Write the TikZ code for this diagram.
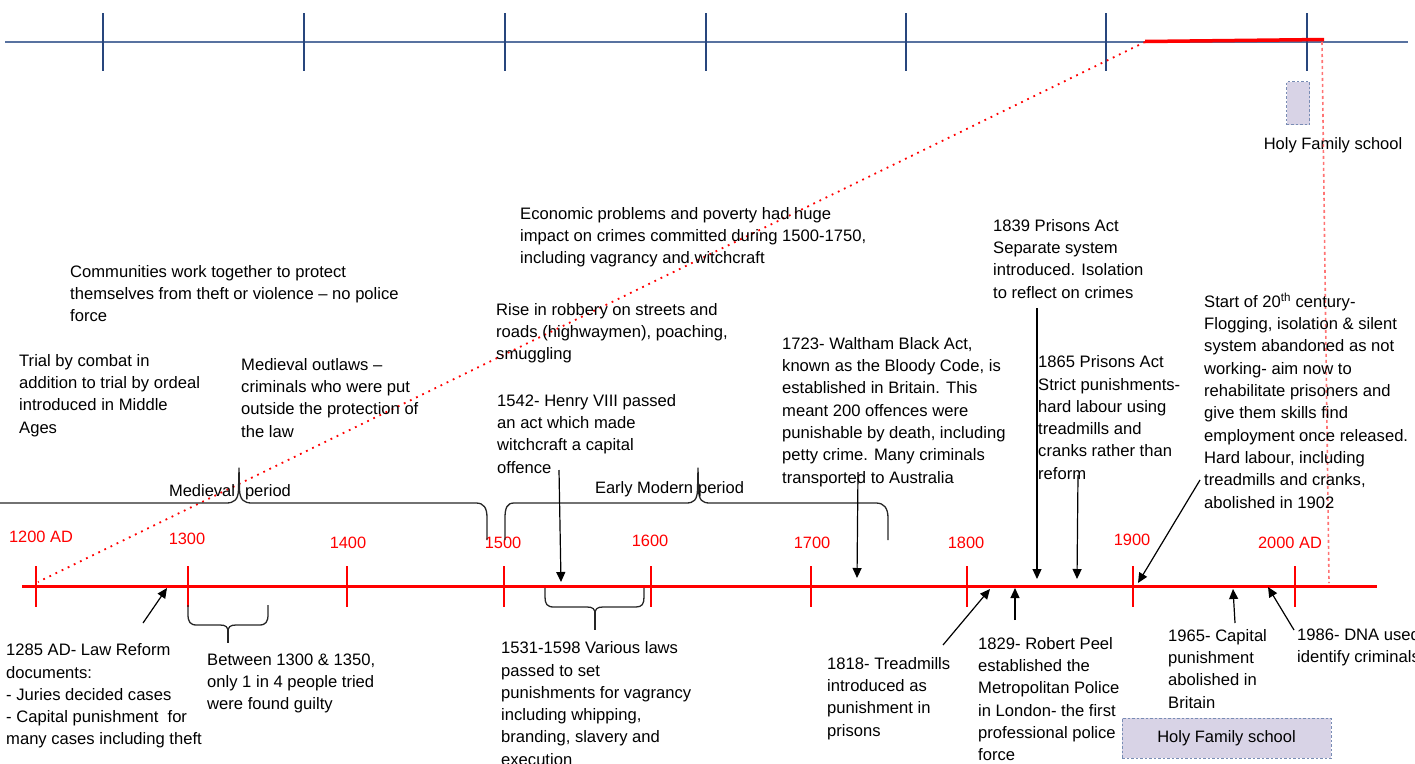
\documentclass[tikz,border=0pt]{standalone}
\usepackage{fontspec}
\setmainfont{Liberation Sans}
\usetikzlibrary{arrows.meta}
\definecolor{tlblue}{RGB}{88,114,160}
\definecolor{tkblue}{RGB}{40,70,125}
\definecolor{hffill}{RGB}{216,211,230}
\definecolor{hfedge}{RGB}{120,140,180}
\newcommand{\tstr}{\rule{0pt}{12.5pt}}
\begin{document}
\begin{tikzpicture}[x=1pt,y=-1pt,
  txt/.style={anchor=north west, inner sep=0pt, align=left, font=\fontsize{16.6}{22.3}\selectfont},
  yr/.style={text=red, inner sep=0pt, font=\fontsize{16.4}{20}\selectfont},
  lbl/.style={inner sep=0pt, font=\fontsize{16.5}{20}\selectfont},
  arr/.style={-{Triangle[length=10pt,width=9pt]}, line width=1.2pt, black},
  brace/.style={draw=black!85, line width=1.3pt, line join=round},
  rtick/.style={red, line width=2.6pt},
  btick/.style={tkblue, line width=1.6pt},
  hfbox/.style={fill=hffill, draw=hfedge, line width=1pt, dash pattern=on 2.5pt off 2pt, inner sep=0pt}
]
\useasboundingbox (0,0) rectangle (1415,763);
\clip (0,0) rectangle (1415,763);

% ---------- top (modern) timeline ----------
\draw[tlblue, line width=2.4pt] (5,42) -- (1408,42);
\foreach \x in {103,304,505,706,906,1106,1307} \draw[btick] (\x,13) -- (\x,71);
\draw[red, line width=3.5pt] (1145,41.5) -- (1324,39.5);
\node[hfbox, minimum width=23pt, minimum height=43pt] (hfs) at (1298,103) {};
\node[lbl, anchor=base] (hfslbl) at (1333,149) {Holy Family school};

% ---------- zoom guide lines ----------
\coordinate (zA) at (1145,42);
\coordinate (zB) at (38,582);
\coordinate (zC) at (1322,42);
\coordinate (zD) at (1329,583);
\draw[red, line width=1.8pt, dash pattern=on 1.8pt off 5pt] (zA) -- (zB);
\draw[red!55, line width=1.6pt, dash pattern=on 3pt off 3pt] (zC) -- (zD);

% ---------- bottom timeline ----------
\draw[red, line width=3pt] (22,586) -- (1377,586);
\foreach \x in {36,188,347,504,651,811,967,1133,1295} \draw[rtick] (\x,566) -- (\x,607);
\node[yr] (y1200) at (41,537) {1200 AD};
\node[yr] (y1300) at (187,539) {1300};
\node[yr] (y1400) at (348,543) {1400};
\node[yr] (y1500) at (503,543) {1500};
\node[yr] (y1600) at (650,541) {1600};
\node[yr] (y1700) at (812,543) {1700};
\node[yr] (y1800) at (966,543) {1800};
\node[yr] (y1900) at (1132,540) {1900};
\node[yr] (y2000) at (1290,543) {2000 AD};

% ---------- period braces ----------
\draw[brace] (-5,503) -- (226,503) .. controls (234,503) and (238,500) .. (238.5,490) -- (239,468) -- (239.5,490) .. controls (240,500) and (244,503) .. (252,503) -- (476,503) .. controls (484,503) and (487,508) .. (487,518) -- (487,540);
\node[lbl] (medp) at (230,492) {Medieval\hspace{10pt}period};
\draw[brace] (505,540) -- (505,518) .. controls (505,508) and (507,503) .. (514,503) -- (686,503) .. controls (694,503) and (697,500) .. (697.5,490) -- (698,468) -- (698.5,490) .. controls (699,500) and (702,503) .. (710,503) -- (876,503) .. controls (884,503) and (888,508) .. (888,518) -- (888,540);
\node[lbl] (emp) at (669.5,489) {Early Modern\hspace{5pt}period};

% ---------- lower braces ----------
\draw[brace] (188,605) -- (188,614) .. controls (188,622) and (190,625) .. (197,625) -- (220,625) .. controls (226,625) and (228,627) .. (228,632) .. controls (228,627) and (230,625) .. (236,625) -- (259,625) .. controls (266,625) and (268,622) .. (268,614) -- (268,605);
\coordinate (br1300) at (228,631);
\coordinate (br1300t) at (228,643);
\draw[brace] (br1300) -- (br1300t);
\draw[brace] (545,588) -- (545,597) .. controls (545,604) and (547,607) .. (554,607) -- (587,607) .. controls (593,607) and (595,609) .. (595,614) .. controls (595,609) and (597,607) .. (603,607) -- (636,607) .. controls (642,607) and (644,604) .. (644,597) -- (644,588);
\coordinate (br1531) at (595,613);
\coordinate (br1531t) at (595,630);
\draw[brace] (br1531) -- (br1531t);

% ---------- texts above ----------
\node[txt] (comm) at (70,264.5) {\tstr Communities work together to protect\\themselves from theft or violence – no police\\force};
\node[txt] (trial) at (19,353.5) {\tstr Trial by combat in\\addition to trial by ordeal\\introduced in Middle\\Ages};
\node[txt] (outlaw) at (241,357.5) {\tstr Medieval outlaws –\\criminals who were put\\outside the protection of\\the law};
\node[txt] (econ) at (520,206.5) {\tstr Economic problems and poverty had huge\\impact on crimes committed during 1500-1750,\\including vagrancy and witchcraft};
\node[txt] (rise) at (496,302.5) {\tstr Rise in robbery on streets and\\roads (highwaymen), poaching,\\smuggling};
\node[txt] (henry) at (497,393.5) {\tstr 1542- Henry VIII passed\\an act which made\\witchcraft a capital\\offence};
\node[txt] (waltham) at (782,336.5) {\tstr 1723- Waltham Black Act,\\known as the Bloody Code, is\\established in Britain. This\\meant 200 offences were\\punishable by death, including\\petty crime. Many criminals\\transported to Australia};
\node[txt] (p1839) at (993,218.5) {\tstr 1839 Prisons Act\\Separate system\\introduced. Isolation\\to reflect on crimes};
\node[txt] (p1865) at (1038,355) {\tstr 1865 Prisons Act\\Strict punishments-\\hard labour using\\treadmills and\\cranks rather than\\reform};
\node[txt] (c20) at (1204,292.5) {\tstr Start of 20\textsuperscript{th} century-\\Flogging, isolation \& silent\\system abandoned as not\\working- aim now to\\rehabilitate prisoners and\\give them skills find\\employment once released.\\Hard labour, including\\treadmills and cranks,\\abolished in 1902};

% ---------- texts below ----------
\node[txt] (l1285) at (6,643) {\tstr 1285 AD- Law Reform\\documents:\\- Juries decided cases\\- Capital punishment~ for\\many cases including theft};
\node[txt] (b1300) at (207,652.5) {\tstr Between 1300 \& 1350,\\only 1 in 4 people tried\\were found guilty};
\node[txt] (laws) at (501,641) {\tstr 1531-1598 Various laws\\passed to set\\punishments for vagrancy\\including whipping,\\branding, slavery and\\execution};
\node[txt] (tread) at (827,656.5) {\tstr 1818- Treadmills\\introduced as\\punishment in\\prisons};
\node[txt] (peel) at (978,636.5) {\tstr 1829- Robert Peel\\established the\\Metropolitan Police\\in London- the first\\professional police\\force};
\node[txt] (cap) at (1168,628.5) {\tstr 1965- Capital\\punishment\\abolished in\\Britain};
\node[txt] (dna) at (1297,627.5) {\tstr 1986- DNA used to\\identify criminals};
\node[hfbox, lbl, minimum width=209pt, minimum height=40pt] (hfb) at (1226.5,738) {Holy Family school};

% ---------- arrows ----------
\coordinate (a1285s) at (143,623);  \coordinate (a1285e) at (167,588);
\coordinate (a1542s) at (559,470);  \coordinate (a1542e) at (561,582);
\coordinate (a1723s) at (858,472);  \coordinate (a1723e) at (857,578);
\coordinate (a1818s) at (943,645);  \coordinate (a1818e) at (990,589);
\coordinate (a1829s) at (1015,620); \coordinate (a1829e) at (1015,588);
\coordinate (a1839s) at (1037,308); \coordinate (a1839e) at (1037,579);
\coordinate (a1865s) at (1078,475); \coordinate (a1865e) at (1077,579);
\coordinate (a1900s) at (1200,480); \coordinate (a1900e) at (1138,583);
\coordinate (a1965s) at (1235,623); \coordinate (a1965e) at (1233,589);
\coordinate (a1986s) at (1294,630); \coordinate (a1986e) at (1268,587);
\foreach \n in {1285,1542,1723,1818,1829,1839,1865,1900,1965,1986}
  \draw[arr] (a\n s) -- (a\n e);
\end{tikzpicture}
\end{document}
